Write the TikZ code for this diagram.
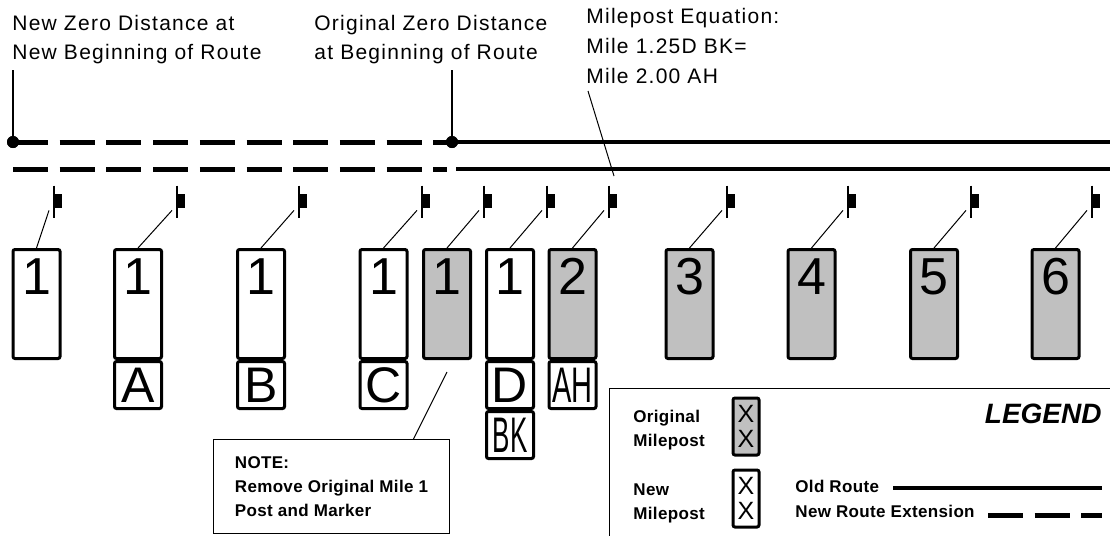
\documentclass[tikz,border=0pt]{standalone}
\usepackage{fontspec}
\usepackage{graphicx}
\setmainfont{Liberation Sans}
\newfontfamily\spaced[LetterSpace=6]{Liberation Sans}
\newfontfamily\spacedb[LetterSpace=2]{Liberation Sans}
\usetikzlibrary{positioning}
\definecolor{postgray}{HTML}{C0C0C0}

\begin{document}
\begin{tikzpicture}[x=0.5pt,y=-0.5pt,
  post/.style={draw, line width=1.5pt, rounded corners=1pt, minimum width=23.5pt, minimum height=54.5pt, anchor=north, inner sep=0pt},
  orig/.style={post, fill=postgray},
  num/.style={anchor=north, inner sep=0pt, font=\fontsize{26}{26}\selectfont},
  tag/.style={draw, line width=1.5pt, rounded corners=1pt, fill=white, minimum width=23.5pt, minimum height=23.5pt, anchor=north, inner sep=0pt, font=\fontsize{25}{25}\selectfont},
  mk/.style={fill=black, minimum width=4pt, minimum height=7pt, inner sep=0pt, anchor=west},
  stem/.style={line width=0.6pt},
  lead/.style={line width=0.5pt},
  oldroute/.style={line width=2pt},
  newroute/.style={line width=2.5pt, dash pattern=on 17.5pt off 5.85pt},
  dot/.style={circle, fill=black, minimum size=6pt, inner sep=0pt},
  toptxt/.style={anchor=north west, inner sep=0pt, align=left, font=\spaced\fontsize{10.5}{14.5}\selectfont},
  note/.style={draw, line width=0.5pt, anchor=north west, minimum width=118pt, minimum height=47pt, align=left, font=\spacedb\bfseries\fontsize{8.5}{12}\selectfont},
  lbl/.style={anchor=west, inner sep=0pt, align=left, font=\spacedb\bfseries\fontsize{8.5}{12}\selectfont},
  mini/.style={draw, line width=1.5pt, rounded corners=1pt, minimum width=13pt, minimum height=28.5pt, inner sep=0pt, align=center, font=\fontsize{12.5}{12.5}\selectfont},
]
  \useasboundingbox (0,0) rectangle (1110,536);

  % labels at the top
  \node[toptxt] (newzero) at (12,15) {New Zero Distance at\\New Beginning of Route};
  \node[toptxt] (origzero) at (314,15) {Original Zero Distance\\at Beginning of Route};
  \node[toptxt, font=\spaced\fontsize{10.5}{15}\selectfont] (equation) at (586,8) {Milepost Equation:\\Mile 1.25D BK=\\Mile 2.00 AH};

  % route lines
  \node[dot] (d0) at (13,142) {};
  \node[dot] (d1) at (452,142) {};
  \coordinate (v0) at (13,70);
  \coordinate (v1) at (452,70);
  \coordinate (aend) at (1112,142);
  \coordinate (b0) at (13,169);
  \coordinate (b1) at (447,169);
  \coordinate (b2) at (456,169);
  \coordinate (bend) at (1112,169);
  \draw[newroute] (d0.center) -- (d1.center);
  \draw[oldroute] (d1.center) -- (aend);
  \draw[newroute] (b0) -- (b1);
  \draw[oldroute] (b2) -- (bend);
  \draw[line width=1.3pt] (v0) -- (d0.center);
  \draw[line width=1.3pt] (v1) -- (d1.center);
  \node[dot] at (d0) {};
  \node[dot] at (d1) {};

  % markers
  \node[mk] (m1) at (54,201) {};
  \node[mk] (m2) at (177,201) {};
  \node[mk] (m3) at (299,201) {};
  \node[mk] (m4) at (422,201) {};
  \node[mk] (m5) at (484,201) {};
  \node[mk] (m6) at (547,201) {};
  \node[mk] (m7) at (609,201) {};
  \node[mk] (m8) at (727,201) {};
  \node[mk] (m9) at (848,201) {};
  \node[mk] (m10) at (971,201) {};
  \node[mk] (m11) at (1092,201) {};

  % posts
  \node[post] (p1) at (36.5,248) {};
  \node[post] (p2) at (138,248) {};
  \node[post] (p3) at (261,248) {};
  \node[post] (p4) at (383.5,248) {};
  \node[orig] (p5) at (447,248) {};
  \node[post] (p6) at (510,248) {};
  \node[orig] (p7) at (572.5,248) {};
  \node[orig] (p8) at (689.5,248) {};
  \node[orig] (p9) at (811.5,248) {};
  \node[orig] (p10) at (934,248) {};
  \node[orig] (p11) at (1055.5,248) {};

  \node[num] (n1) at ([yshift=-5pt]p1.north) {1};
  \node[num] (n2) at ([yshift=-5pt]p2.north) {1};
  \node[num] (n3) at ([yshift=-5pt]p3.north) {1};
  \node[num] (n4) at ([yshift=-5pt]p4.north) {1};
  \node[num] (n5) at ([yshift=-5pt]p5.north) {1};
  \node[num] (n6) at ([yshift=-5pt]p6.north) {1};
  \node[num] (n7) at ([yshift=-5pt]p7.north) {2};
  \node[num] (n8) at ([yshift=-5pt]p8.north) {3};
  \node[num] (n9) at ([yshift=-5pt]p9.north) {4};
  \node[num] (n10) at ([yshift=-5pt]p10.north) {5};
  \node[num] (n11) at ([yshift=-5pt]p11.north) {6};

  \node[tag] (ta) at (p2.south) {A};
  \node[tag] (tb) at (p3.south) {B};
  \node[tag] (tc) at (p4.south) {C};
  \node[tag] (td) at (p6.south) {D};
  \node[tag] (tbk) at (td.south) {\scalebox{0.52}[1]{BK}};
  \node[tag] (tah) at (p7.south) {\scalebox{0.58}[1]{AH}};

  \foreach \i in {1,...,11}{
    \draw[stem] ([yshift=4pt]m\i.north west) -- ([yshift=-5pt]m\i.south west);
    \draw[lead] ([xshift=-2.5pt,yshift=-1pt]m\i.south west) -- (p\i.north);
  }

  % equation leader
  \coordinate (eq0) at (588,91);
  \coordinate (eq1) at (614,176);
  \draw[lead] (eq0) -- (eq1);

  % note
  \node[note] (note) at (213,439) {NOTE:\\Remove Original Mile 1\\Post and Marker};
  \draw[lead] ([xshift=41pt]note.north) -- ([yshift=-6pt]p5.south);

  % legend
  \node[draw, line width=0.5pt, anchor=north west, minimum width=262pt, minimum height=82pt] (legend) at (609,388) {};
  \node[anchor=base east, inner sep=0pt, font=\bfseries\itshape\fontsize{14}{14}\selectfont] (legtitle) at (1102,423) {LEGEND};
  \node[lbl] (origlbl) at (633,430) {Original\\Milepost};
  \node[lbl] (newlbl) at (633,503) {New\\Milepost};
  \node[mini, fill=postgray] (xorig) at (746,426.5) {X\\X};
  \node[mini, fill=white] (xnew) at (746,498.5) {X\\X};
  \node[anchor=base west, inner sep=0pt, font=\spacedb\bfseries\fontsize{8.5}{12}\selectfont] (oldlbl) at (795,492) {Old Route};
  \node[anchor=base west, inner sep=0pt, font=\spacedb\bfseries\fontsize{8.5}{12}\selectfont] (extlbl) at (795,517) {New Route Extension};
  \coordinate (ol0) at (893,488);
  \coordinate (ol1) at (1102,488);
  \coordinate (nl0) at (988,515);
  \coordinate (nl1) at (1102,515);
  \draw[oldroute] (ol0) -- (ol1);
  \draw[newroute] (nl0) -- (nl1);
\end{tikzpicture}
\end{document}
